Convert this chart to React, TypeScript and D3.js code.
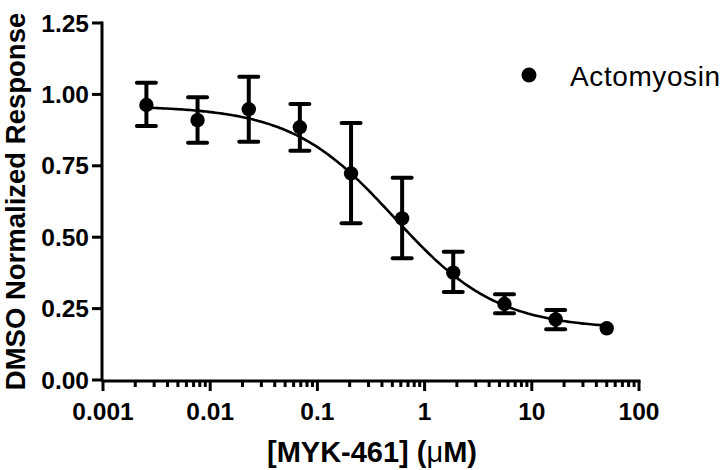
import React from "react";
import * as d3 from "d3";

// Data (concentration in µM, response, error-bar bounds)
const concentrations = [0.00254, 0.00762, 0.0229, 0.0686, 0.206, 0.617, 1.85, 5.56, 16.7, 50];
const responses = [0.963, 0.91, 0.948, 0.885, 0.723, 0.566, 0.376, 0.266, 0.212, 0.181];
const errUpper = [1.041, 0.99, 1.062, 0.966, 0.9, 0.708, 0.449, 0.3, 0.245, 0.181];
const errLower = [0.889, 0.831, 0.834, 0.803, 0.549, 0.426, 0.308, 0.234, 0.178, 0.181];

// Fitted 4-parameter logistic curve parameters
const fitTop = 0.96;
const fitBottom = 0.178;
const fitIC50 = 0.52;
const fitHill = 0.9;

const xTickValues = [0.001, 0.01, 0.1, 1, 10, 100];
const xTickLabels = ["0.001", "0.01", "0.1", "1", "10", "100"];
const yTickValues = [0, 0.25, 0.5, 0.75, 1.0, 1.25];
const yTickLabels = ["0.00", "0.25", "0.50", "0.75", "1.00", "1.25"];

const seriesName = "Actomyosin";
const xTitle = "[MYK-461] (";
const xTitleMu = "μ";
const xTitleEnd = "M)";
const yTitle = "DMSO Normalized Response";

const FONT = "'Liberation Sans', Arial, Helvetica, sans-serif";

export default function App() {
  const W = 720;
  const H = 470;
  const x = d3.scaleLog().domain([0.001, 100]).range([103, 639]);
  const y = d3.scaleLinear().domain([0, 1.25]).range([380, 23]);

  const minorTicks: number[] = [];
  for (let e = -3; e < 2; e++) {
    for (let m = 2; m <= 9; m++) minorTicks.push(m * Math.pow(10, e));
  }

  const fit = (c: number) => fitBottom + (fitTop - fitBottom) / (1 + Math.pow(c / fitIC50, fitHill));
  const lx0 = Math.log10(concentrations[0]);
  const lx1 = Math.log10(concentrations[concentrations.length - 1]);
  const curveX = d3.range(0, 201).map((i) => Math.pow(10, lx0 + ((lx1 - lx0) * i) / 200));
  const line = d3
    .line<number>()
    .x((c) => x(c))
    .y((c) => y(fit(c)))
    .curve(d3.curveLinear);

  const axisW = 3;
  const capW = 9.5;

  return (
    <svg
      width={W}
      height={H}
      style={{ position: "absolute", left: 0, top: 0, background: "#fff" }}
      fontFamily={FONT}
    >
      <rect x={0} y={0} width={W} height={H} fill="#fff" />
      {/* curve */}
      <path d={line(curveX) || ""} fill="none" stroke="#000" strokeWidth={2.6} />
      {/* error bars */}
      {concentrations.map((c, i) =>
        errUpper[i] - errLower[i] > 0.001 ? (
          <g key={"e" + i} stroke="#000" strokeWidth={4}>
            <line x1={x(c)} x2={x(c)} y1={y(errUpper[i])} y2={y(errLower[i])} />
            <line x1={x(c) - capW} x2={x(c) + capW} y1={y(errUpper[i])} y2={y(errUpper[i])} strokeLinecap="round" />
            <line x1={x(c) - capW} x2={x(c) + capW} y1={y(errLower[i])} y2={y(errLower[i])} strokeLinecap="round" />
          </g>
        ) : null
      )}
      {/* points */}
      {concentrations.map((c, i) => (
        <circle key={"p" + i} cx={x(c)} cy={y(responses[i])} r={7.2} fill="#000" />
      ))}
      {/* y axis */}
      <line x1={102} x2={102} y1={y(1.25) - 1.5} y2={y(0) + 1.5} stroke="#000" strokeWidth={axisW} />
      {yTickValues.map((v, i) => (
        <g key={"yt" + i}>
          <line x1={92} x2={102} y1={y(v)} y2={y(v)} stroke="#000" strokeWidth={axisW} />
          <text x={89} y={y(v) + 8.5} textAnchor="end" fontSize={24.5} fontWeight="bold">
            {yTickLabels[i]}
          </text>
        </g>
      ))}
      {/* x axis */}
      <line x1={102} x2={x(100) + 1.5} y1={381} y2={381} stroke="#000" strokeWidth={axisW} />
      {minorTicks.map((v, i) => (
        <line key={"mt" + i} x1={x(v)} x2={x(v)} y1={381} y2={387} stroke="#000" strokeWidth={axisW} />
      ))}
      {xTickValues.map((v, i) => (
        <g key={"xt" + i}>
          <line x1={x(v)} x2={x(v)} y1={381} y2={391} stroke="#000" strokeWidth={axisW} />
          <text x={x(v)} y={420} textAnchor="middle" fontSize={24.5} fontWeight="bold">
            {xTickLabels[i]}
          </text>
        </g>
      ))}
      {/* axis titles */}
      <text x={372} y={462} textAnchor="middle" fontSize={29} fontWeight="bold">
        {xTitle}
        <tspan fontWeight="normal">{xTitleMu}</tspan>
        {xTitleEnd}
      </text>
      <text
        transform={`translate(24.5, ${(y(0) + y(1.25)) / 2}) rotate(-90)`}
        textAnchor="middle"
        fontSize={27.5}
        fontWeight="bold"
      >
        {yTitle}
      </text>
      {/* legend */}
      <circle cx={529} cy={75} r={7.5} fill="#000" />
      <text x={570} y={86} fontSize={28} letterSpacing={0.6}>
        {seriesName}
      </text>
    </svg>
  );
}
